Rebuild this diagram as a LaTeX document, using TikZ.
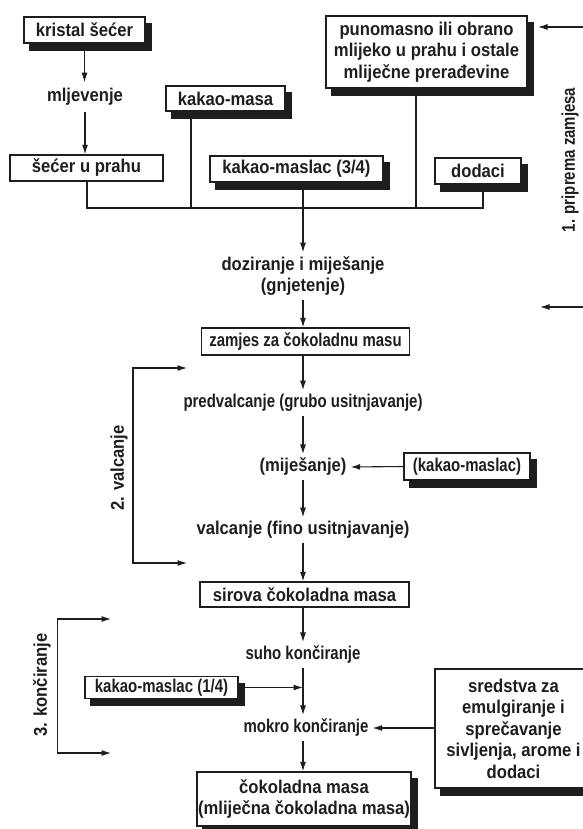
\documentclass[tikz,border=0pt]{standalone}
\usepackage{fontspec}
\setmainfont{Liberation Sans}[FakeStretch=0.9]
\newfontfamily\fontA{Liberation Sans}[FakeStretch=0.9]
\newfontfamily\fontB{Liberation Sans}[FakeStretch=0.81]
\usetikzlibrary{arrows.meta,shadows}
\definecolor{ink}{HTML}{1E1E1E}
\begin{document}
\begin{tikzpicture}[x=1pt,y=-1pt,
  every node/.style={font=\fontA\bfseries\fontsize{18.5}{21.5}\selectfont, text=ink},
  narrow/.style={font=\fontB\bfseries\fontsize{18.5}{21.5}\selectfont},
  box/.style={draw=ink, line width=1.4pt, fill=white, inner sep=0pt, align=center},
  shad/.style={box, general shadow={fill=ink, draw=ink, shadow xshift=6pt, shadow yshift=-7pt}},
  lbl/.style={inner sep=4pt, align=center},
  ln/.style={draw=ink, line width=1.1pt},
  arr/.style={ln, -{Latex[length=9.5pt,width=6pt]}},
  darr/.style={ln, {Latex[length=9.5pt,width=6pt]}-{Latex[length=9.5pt,width=6pt]}}
]
\useasboundingbox (0,0) rectangle (582,829);
\fill[white] (0,0) rectangle (582,829);

% top section
\node[shad, minimum width=121pt, minimum height=26pt] (ks) at (84.5,30) {kristal šećer};
\node[lbl, inner sep=6pt] (mlj) at (85,97) {mljevenje};
\node[box, minimum width=153pt, minimum height=26pt] (sup) at (86.5,168) {šećer u prahu};
\node[shad, minimum width=119pt, minimum height=25pt] (km) at (225.5,98.5) {kakao-masa};
\node[shad, minimum width=173pt, minimum height=26pt] (kml) at (296.5,169) {kakao-maslac (3/4)};
\node[shad, minimum width=86pt, minimum height=26pt] (dod) at (478,171) {dodaci};
\node[shad, minimum width=201pt, minimum height=72pt] (pm) at (426.5,52) {punomasno ili obrano\\mlijeko u prahu i ostale\\mliječne prerađevine};

\draw[arr] (ks.south) -- (ks.south |- mlj.north);
\draw[arr] (mlj.south) -- (mlj.south |- sup.north);

\coordinate (b1) at (87,208);
\coordinate (b2) at (191,208);
\coordinate (b3) at (303,208);
\coordinate (b4) at (416,208);
\coordinate (b5) at (483,208);
\draw[ln] (sup.south -| b1) -- (b1) -- (b5) -- (dod.south -| b5);
\draw[ln] (km.south -| b2) -- (b2);
\draw[ln] (kml.south -| b3) -- (b3);
\draw[ln] (pm.south -| b4) -- (b4);

% middle
\node[lbl] (doz) at (303,276) {doziranje i miješanje\\(gnjetenje)};
\node[box, narrow, minimum width=208pt, minimum height=27pt] (zam) at (305.5,341.5) {zamjes za čokoladnu masu};
\node[lbl, narrow] (pred) at (303,403) {predvalcanje (grubo usitnjavanje)};
\node[lbl] (mij) at (303,467) {(miješanje)};
\node[shad, narrow, minimum width=126pt, minimum height=27pt] (kmx) at (467,466.5) {(kakao-maslac)};
\node[lbl] (val) at (303,530) {valcanje (fino usitnjavanje)};
\node[box, minimum width=209pt, minimum height=25pt] (sir) at (304.5,594.5) {sirova čokoladna masa};
\node[lbl, narrow] (suho) at (303,655) {suho končiranje};
\node[shad, narrow, minimum width=153pt, minimum height=22pt] (kmq) at (161.5,687.5) {kakao-maslac (1/4)};
\node[lbl, narrow] (mok) at (306,728) {mokro končiranje};
\node[shad, minimum width=157pt, minimum height=119pt] (sred) at (513.5,728.5) {sredstva za\\emulgiranje i\\sprečavanje\\sivljenja, arome i\\dodaci};
\node[shad, minimum width=214pt, minimum height=54pt] (cok) at (304,799) {čokoladna masa\\(mliječna čokoladna masa)};

\draw[arr] (b3) -- (doz.north);
\draw[arr] (doz.south) -- (doz.south |- zam.north);
\draw[arr] (zam.south -| doz) -- (pred.north);
\draw[arr] (pred.south) -- (mij.north);
\draw[arr] (mij.south) -- (val.north);
\draw[arr] (val.south) -- (val.south |- sir.north);
\draw[arr] (sir.south -| suho) -- (suho.north);
\draw[arr] (suho.south) -- (suho.south |- mok.north);
\draw[arr] (kmq.east) -- (kmq.east -| suho.south);
\draw[arr] (kmx.west) -- (mij.east);
\draw[arr] (sred.west |- mok) -- (mok.east);
\draw[arr] (mok.south -| suho) -- (suho |- cok.north);

% brackets
\coordinate (v2t) at (187,368);
\coordinate (v2b) at (187,563);
\draw[darr] (v2t) -- (133,368) -- (133,563) -- (v2b);
\node[rotate=90] (v2l) at (119,468) {2. valcanje};

\coordinate (k3t) at (111,619);
\coordinate (k3b) at (111,753);
\draw[darr] (k3t) -- (57.5,619) -- (57.5,753) -- (k3b);
\node[rotate=90] (k3l) at (42,685) {3. končiranje};

\coordinate (r1) at (592,27);
\coordinate (r1e) at (538,27);
\coordinate (r2) at (592,307);
\coordinate (r2e) at (540,307);
\draw[arr] (r1) -- (r1e);
\draw[arr] (r2) -- (r2e);
\node[rotate=90, narrow] (pz) at (570,160) {1. priprema zamjesa};
\end{tikzpicture}
\end{document}
